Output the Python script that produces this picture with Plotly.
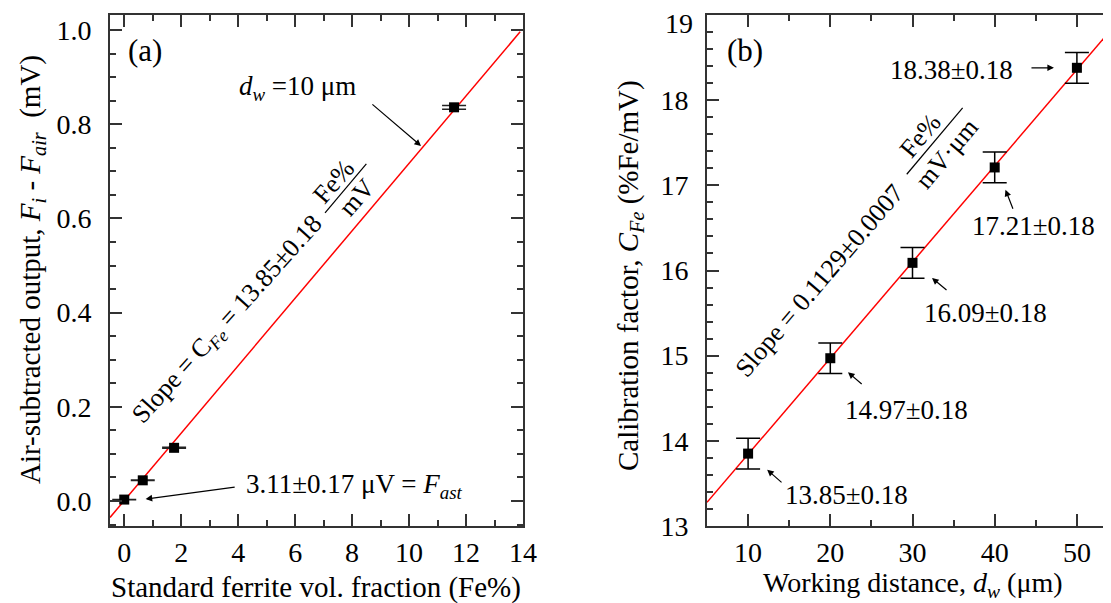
import plotly.graph_objects as go

# ---------------- data ----------------
# panel (a)
ferrite_fe = [0.0, 0.65, 1.75, 11.58]
output_mV = [0.00311, 0.044, 0.113, 0.836]
output_err = [0.00017, 0.0005, 0.001, 0.004]
slope_a = 0.0716          # mV per Fe%  (1/C_Fe)
intercept_a = 0.001
fit_a_x = [-0.5, 13.9]

# panel (b)
distance_um = [10, 20, 30, 40, 50]
cfe = [13.85, 14.97, 16.09, 17.21, 18.38]
cfe_err = [0.18, 0.18, 0.18, 0.18, 0.18]
cfe_labels = ["13.85±0.18", "14.97±0.18", "16.09±0.18", "17.21±0.18", "18.38±0.18"]
slope_b = 0.1129
intercept_b = 12.713
fit_b_x = [5, 55]

FONT = "'Liberation Serif', 'Times New Roman', Times, serif"
AX = "#333333"

fig = go.Figure()

# (a) fit line
fig.add_trace(go.Scatter(
    x=fit_a_x, y=[slope_a * v + intercept_a for v in fit_a_x],
    mode="lines", line=dict(color="red", width=1.5),
    xaxis="x", yaxis="y", showlegend=False, hoverinfo="skip"))
# (a) points
fig.add_trace(go.Scatter(
    x=ferrite_fe, y=output_mV, mode="markers",
    marker=dict(symbol="square", size=10, color="black"),
    error_y=dict(type="data", array=output_err, visible=True,
                 color="#222222", thickness=1.5, width=12),
    xaxis="x", yaxis="y", showlegend=False))

# (b) fit line
fig.add_trace(go.Scatter(
    x=fit_b_x, y=[slope_b * v + intercept_b for v in fit_b_x],
    mode="lines", line=dict(color="red", width=1.5),
    xaxis="x2", yaxis="y2", showlegend=False, hoverinfo="skip"))
# (b) points
fig.add_trace(go.Scatter(
    x=distance_um, y=cfe, mode="markers",
    marker=dict(symbol="square", size=10, color="black"),
    error_y=dict(type="data", array=cfe_err, visible=True,
                 color="black", thickness=1.5, width=12),
    xaxis="x2", yaxis="y2", showlegend=False))

tickfont = dict(family=FONT, size=28, color="black")

def axis(domain, rng, dtick, minor_dtick, anchor, fmt=None, tickvals=None):
    d = dict(
        domain=domain, range=rng, anchor=anchor,
        showline=True, linecolor=AX, linewidth=1.6, mirror="ticks",
        ticks="inside", ticklen=12, tickwidth=1.5, tickcolor=AX,
        minor=dict(dtick=minor_dtick, ticks="inside", ticklen=6,
                   tickwidth=1.5, tickcolor=AX, showgrid=False),
        dtick=dtick, tick0=0, showgrid=False, zeroline=False,
        tickfont=tickfont, automargin=False,
    )
    if fmt:
        d["tickformat"] = fmt
    if tickvals is not None:
        d["tickvals"] = tickvals
        d["tickmode"] = "array"
    return d

xa = axis([102 / 1111, 515 / 1111], [-0.5, 14], 2, 1, "y")
ya = axis([1 - 518 / 603, 1 - 7 / 603], [-0.053, 1.032], 0.2, 0.05, "x", fmt=".1f")
xb = axis([699 / 1111, 1110 / 1111], [5, 55], 10, 5, "y2")
yb = axis([1 - 518 / 603, 1 - 7 / 603], [13, 19], 1, 0.2, "x2",
          tickvals=[13, 14, 15, 16, 17, 18])
xa["ticklabelstandoff"] = 1
xb["ticklabelstandoff"] = 1
ya["ticklabelstandoff"] = 11
yb["ticklabelstandoff"] = 11

ann = []
def txt(x, y, text, size=27, xref="x", yref="y", angle=0, xanchor="center", yanchor="middle"):
    ann.append(dict(x=x, y=y, xref=xref, yref=yref, text=text, showarrow=False,
                    textangle=angle, xanchor=xanchor, yanchor=yanchor,
                    font=dict(family=FONT, size=size, color="black")))

def arrow(x0, y0, x1, y1, xref="x", yref="y"):
    ann.append(dict(x=x1, y=y1, ax=x0, ay=y0, xref=xref, yref=yref,
                    axref=xref, ayref=yref, text="", showarrow=True,
                    arrowhead=2, arrowsize=1.1, arrowwidth=1.2, arrowcolor="black",
                    standoff=0, startstandoff=0))

# panel (a) texts
txt(0.73, 0.956, "(a)", size=31)
txt(6.10, 0.877, "<i>d<sub>w</sub></i> =10 μm", size=27)
arrow(8.66, 0.845, 10.42, 0.754)
txt(8.10, 0.032, "3.11±0.17 μV = <i>F<sub>ast</sub></i>", size=27)
arrow(3.93, 0.030, 0.75, 0.0043)
txt(3.64, 0.385, "Slope = C<sub><i>Fe</i></sub> = 13.85±0.18", size=26, angle=-48)
txt(7.36, 0.678, "Fe%", size=26, angle=-49)
txt(8.16, 0.645, "mV", size=26, angle=-49)

# panel (b) texts
txt(9.62, 18.58, "(b)", size=31, xref="x2", yref="y2")
txt(18.71, 15.88, "Slope = 0.1129±0.0007", size=26, xref="x2", yref="y2", angle=-49.5)
txt(30.95, 17.59, "Fe%", size=26, xref="x2", yref="y2", angle=-50)
txt(34.2, 17.37, "mV·μm", size=26, xref="x2", yref="y2", angle=-50)

label_pos = [(21.97, 13.36), (29.21, 14.366), (38.82, 15.50), (44.66, 16.52), (34.8, 18.354)]
arrow_pos = [((14.25, 13.497), (12.32, 13.661)),
             ((24.0, 14.652), (22.15, 14.805)),
             ((34.32, 15.756), (32.37, 15.912)),
             ((42.29, 16.707), (41.31, 16.949)),
             ((44.29, 18.38), (47.21, 18.38))]
for lab, (lx, ly), ((ax0, ay0), (ax1, ay1)) in zip(cfe_labels, label_pos, arrow_pos):
    txt(lx, ly, lab, size=27, xref="x2", yref="y2")
    arrow(ax0, ay0, ax1, ay1, xref="x2", yref="y2")

# top tick label "19" (shown inside the frame height, as in the reference)
txt(687 / 1111, 1 - 16 / 603, "19", size=28, xref="paper", yref="paper", xanchor="right")

# axis titles
txt(308 / 1111, 1 - 579 / 603, "Standard ferrite vol. fraction (Fe%)", size=29,
    xref="paper", yref="paper")
txt(905 / 1111, 1 - 576 / 603, "Working distance, <i>d<sub>w</sub></i> (μm)", size=28,
    xref="paper", yref="paper")
txt(24 / 1111, 1 - 262 / 603,
    "Air-subtracted output, <i>F<sub>i</sub></i> - <i>F<sub>air</sub></i> &nbsp;(mV)", size=29,
    xref="paper", yref="paper", angle=-90)
txt(622 / 1111, 1 - 268 / 603,
    "Calibration factor, <i>C<sub>Fe</sub></i> (%Fe/mV)", size=29,
    xref="paper", yref="paper", angle=-90)

shapes = [
    dict(type="line", xref="x", yref="y", x0=7.05, y0=0.612, x1=8.50, y1=0.716,
         line=dict(color="black", width=1.2)),
    dict(type="line", xref="x2", yref="y2", x0=29.3, y0=17.13, x1=36.1, y1=17.91,
         line=dict(color="black", width=1.2)),
]

fig.update_layout(
    width=1111, height=603,
    margin=dict(l=0, r=0, t=0, b=0),
    paper_bgcolor="white", plot_bgcolor="white",
    xaxis=xa, yaxis=ya, xaxis2=xb, yaxis2=yb,
    annotations=ann, shapes=shapes,
    font=dict(family=FONT, color="black"),
)

fig.write_html("out.html")
